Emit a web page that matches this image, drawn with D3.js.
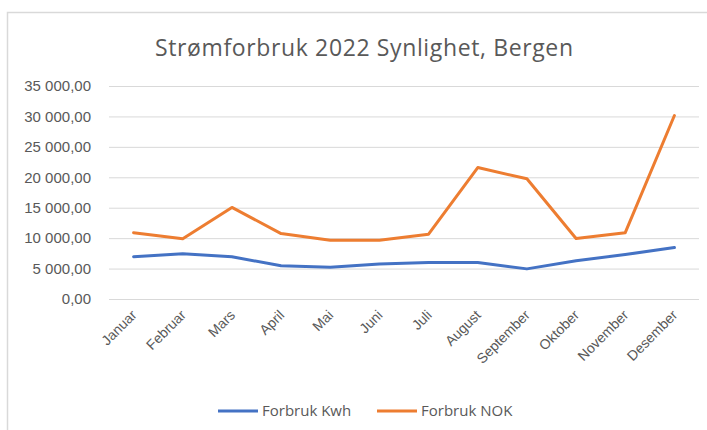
<!DOCTYPE html>
<html>
<head>
<meta charset="utf-8">
<script src="https://cdn.jsdelivr.net/npm/d3@7"></script>
<style>
  body { margin: 0; background: #fff; }
  svg { display: block; font-family: "Open Sans", "Liberation Sans", sans-serif; }
</style>
</head>
<body>
<svg id="chart" width="707" height="430"></svg>
<script>
const months = ['Januar', 'Februar', 'Mars', 'April', 'Mai', 'Juni', 'Juli', 'August', 'September', 'Oktober', 'November', 'Desember']
const kwh = [6950, 7450, 6950, 5450, 5200, 5750, 6000, 6000, 4950, 6300, 7300, 8450]
const nok = [10900, 9900, 15050, 10750, 9650, 9650, 10650, 21600, 19750, 9950, 10900, 30150]
const yTicks = [0, 5000, 10000, 15000, 20000, 25000, 30000, 35000]
const seriesNames = ['Forbruk Kwh', 'Forbruk NOK']
const colors = ['#4472C4', '#ED7D31']

const width = 707
const height = 430
const margin = { top: 86, right: 8, bottom: 131, left: 109 }

const svg = d3.select('#chart')

// chart frame
svg.append('path')
  .attr('d', `M7.5,${height} V12.5 H${width}`)
  .attr('fill', 'none')
  .attr('stroke', '#d9d9d9')
  .attr('stroke-width', 1.5)

svg.append('text')
  .attr('x', 364)
  .attr('y', 56)
  .attr('text-anchor', 'middle')
  .attr('fill', '#595959')
  .style('font-size', '23px')
  .attr('textLength', 418)
  .text('Strømforbruk 2022 Synlighet, Bergen')

const xScale = d3.scaleBand()
  .domain(months)
  .range([margin.left, width - margin.right])

const yScale = d3.scaleLinear()
  .domain([0, 35000])
  .range([height - margin.bottom, margin.top])

const fmt = v => d3.format(',.2f')(v).replace(/,/g, ' ').replace('.', ',')

const yAxis = d3.axisLeft(yScale)
  .tickValues(yTicks)
  .tickSize(-(width - margin.right - margin.left))
  .tickPadding(18)
  .tickFormat(fmt)

const gy = svg.append('g')
  .attr('transform', `translate(${margin.left}, 0)`)
  .call(yAxis)
gy.select('.domain').remove()
gy.selectAll('line').attr('stroke', '#d9d9d9').attr('stroke-width', 1)
gy.selectAll('text').attr('fill', '#595959').style('font-size', '15px')

const xAxis = d3.axisBottom(xScale).tickSize(0).tickPadding(0)
const gx = svg.append('g')
  .attr('transform', `translate(0, ${height - margin.bottom})`)
  .call(xAxis)
gx.select('.domain').remove()
gx.selectAll('text')
  .attr('fill', '#595959')
  .style('font-size', '14px')
  .attr('text-anchor', 'end')
  .attr('dy', 0)
  .attr('transform', 'translate(4, 17) rotate(-45)')

const line = d3.line()
  .x((d, i) => xScale(months[i]) + xScale.bandwidth() / 2)
  .y(d => yScale(d))

;[kwh, nok].forEach((series, i) => {
  svg.append('path')
    .datum(series)
    .attr('d', line)
    .attr('fill', 'none')
    .attr('stroke', colors[i])
    .attr('stroke-width', 3)
    .attr('stroke-linejoin', 'round')
    .attr('stroke-linecap', 'round')
})

// legend
const legendX = [218, 377]
seriesNames.forEach((name, i) => {
  const g = svg.append('g').attr('transform', `translate(${legendX[i]}, 411)`)
  g.append('line')
    .attr('x1', 0).attr('x2', 40)
    .attr('stroke', colors[i])
    .attr('stroke-width', 3)
  g.append('text')
    .attr('x', 44)
    .attr('dy', '0.35em')
    .attr('fill', '#595959')
    .style('font-size', '15px')
    .text(name)
})
</script>
</body>
</html>
